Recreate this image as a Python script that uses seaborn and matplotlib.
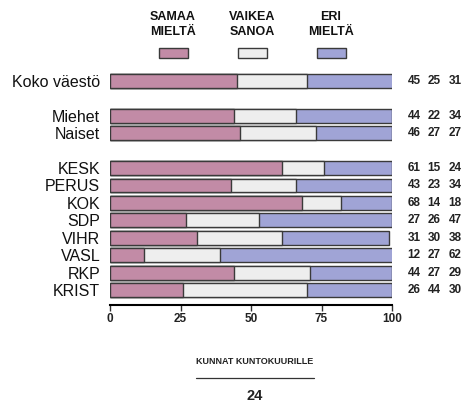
import matplotlib
matplotlib.use("Agg")
import matplotlib.pyplot as plt
import matplotlib.transforms as mtransforms
import seaborn as sns
import pandas as pd
import numpy as np
from matplotlib.patches import Rectangle
from matplotlib.lines import Line2D

groups = ["Koko väestö", "_gap1", "Miehet", "Naiset", "_gap2",
          "KESK", "PERUS", "KOK", "SDP", "VIHR", "VASL", "RKP", "KRIST"]
samaa = [45, None, 44, 46, None, 61, 43, 68, 27, 31, 12, 44, 26]
vaikea = [25, None, 22, 27, None, 15, 23, 14, 26, 30, 27, 27, 44]
eri = [31, None, 34, 27, None, 24, 34, 18, 47, 38, 62, 29, 30]
series_labels = ["SAMAA\nMIELTÄ", "VAIKEA\nSANOA", "ERI\nMIELTÄ"]
ticks = [0, 25, 50, 75, 100]

c_pink = "#C28BA6"
c_light = "#EEEEEE"
c_blue = "#A0A4D6"
edge = "#3a3a3a"

sns.set_theme(style="white")
plt.rcParams['font.family'] = ['Liberation Sans', 'DejaVu Sans']
cond = ['Liberation Sans Narrow', 'Liberation Sans', 'DejaVu Sans']

df = pd.DataFrame({"group": groups,
                   "samaa": pd.to_numeric(pd.Series(samaa), errors="coerce"),
                   "vaikea": pd.to_numeric(pd.Series(vaikea), errors="coerce"),
                   "eri": pd.to_numeric(pd.Series(eri), errors="coerce")})
df["c1"] = df["samaa"]
df["c2"] = df["samaa"] + df["vaikea"]
df["c3"] = df["samaa"] + df["vaikea"] + df["eri"]

fig = plt.figure(figsize=(4.69, 4.05), dpi=100)
ax = fig.add_axes([110/469, 1-305/405, 282/469, (305-70.5)/405])

for col, color in [("c3", c_blue), ("c2", c_light), ("c1", c_pink)]:
    sns.barplot(data=df, x=col, y="group", order=groups, orient="h",
                color=color, edgecolor=edge, linewidth=1.0, width=0.8,
                saturation=1, ax=ax)

ax.set_xlim(0, 100)
ax.set_ylim(12.86, -0.6)
ax.set_xlabel("")
ax.set_ylabel("")
ax.set_xticks(ticks)
ax.set_xticklabels([str(t) for t in ticks], fontsize=8.5, fontweight="bold", color="#222222")
ylabels = ["" if g.startswith("_") else g for g in groups]
ax.set_yticks(range(len(groups)))
ax.set_yticklabels(ylabels, fontsize=11.5, color="#111111")
ax.tick_params(axis="y", length=0, pad=7)
ax.tick_params(axis="x", length=4, width=1, color="#333333", direction="out", bottom=True, pad=2)
for s in ["top", "right", "left"]:
    ax.spines[s].set_visible(False)
ax.spines["bottom"].set_color("black")
ax.spines["bottom"].set_linewidth(1.5)

# right-side numbers
xs_px = [414, 434, 455]
trans = mtransforms.blended_transform_factory(fig.transFigure, ax.transData)
for i, g in enumerate(groups):
    if g.startswith("_"):
        continue
    vals = [samaa[i], vaikea[i], eri[i]]
    for xp, v in zip(xs_px, vals):
        ax.text(xp / 469, i, str(v), transform=trans,
                ha="center", va="center", fontsize=8.5, fontweight="bold", color="#222222")

# legend
centers = [173, 252, 331]
colors = [c_pink, c_light, c_blue]
for cx, lab, col in zip(centers, series_labels, colors):
    fig.text(cx/469, 1-24.5/405, lab, ha="center", va="center", fontsize=9,
             fontweight="bold", linespacing=1.35, color="#111111", family=cond)
    fig.patches.append(Rectangle(((cx-14.5)/469, 1-58/405), 29/469, 10/405,
                                 transform=fig.transFigure, facecolor=col,
                                 edgecolor=edge, linewidth=1.0))

# footer
fig.text(255/469, 1-362/405, "KUNNAT KUNTOKUURILLE", ha="center", va="center",
         fontsize=6.5, fontweight="bold", color="#222222", family=cond)
fig.add_artist(Line2D([196/469, 314/469], [1-378/405, 1-378/405],
                      transform=fig.transFigure, color="#333333", linewidth=0.9))
fig.text(255/469, 1-396/405, "24", ha="center", va="center",
         fontsize=10.5, fontweight="bold", color="#222222", family=cond)

fig.savefig("out.png", dpi=100)
